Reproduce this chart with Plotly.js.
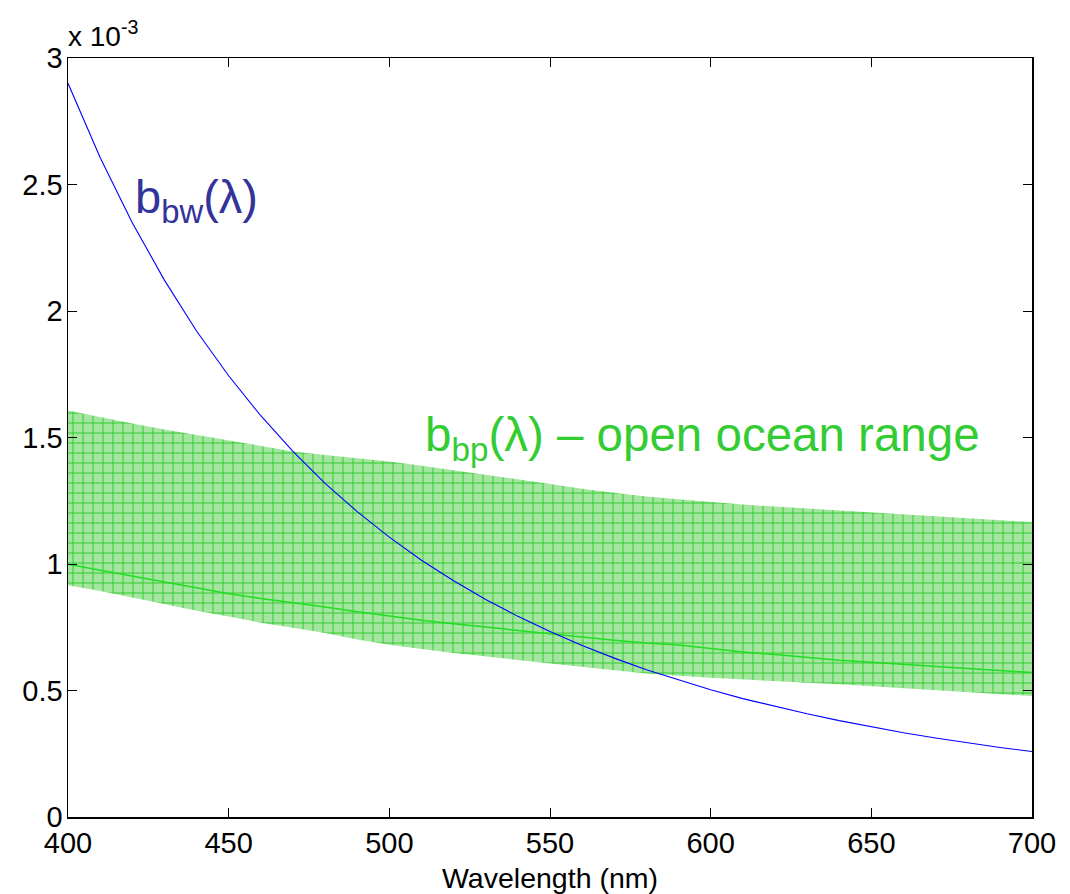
<!DOCTYPE html>
<html>
<head>
<meta charset="utf-8">
<script src="https://cdn.plot.ly/plotly-3.0.1.min.js"></script>
<style>
  html, body { margin: 0; padding: 0; background: #ffffff; }
  #chart { width: 1070px; height: 894px; }
</style>
</head>
<body>
<div id="chart"></div>
<script>
// Wavelength grid (nm)
const wavelength = [400, 410, 420, 430, 440, 450, 460, 470, 480, 490, 500,
                    510, 520, 530, 540, 550, 560, 570, 580, 590, 600,
                    610, 620, 630, 640, 650, 660, 670, 680, 690, 700];

// Backscattering of pure seawater, b_bw (units of 1e-3 m^-1)
const bbw = [2.900, 2.607, 2.349, 2.122, 1.921, 1.744, 1.586, 1.445, 1.319, 1.207, 1.106,
             1.015, 0.934, 0.860, 0.793, 0.733, 0.678, 0.628, 0.582, 0.541, 0.503,
             0.468, 0.437, 0.408, 0.381, 0.356, 0.333, 0.312, 0.293, 0.275, 0.259];

// Particulate backscattering, open-ocean range: upper and lower bounds (1e-3 m^-1)
const bbpHigh = [1.607, 1.580, 1.555, 1.532, 1.510, 1.487, 1.465, 1.445, 1.431, 1.419, 1.405,
                 1.388, 1.371, 1.354, 1.335, 1.316, 1.297, 1.282, 1.267, 1.256, 1.245,
                 1.235, 1.227, 1.219, 1.212, 1.204, 1.197, 1.190, 1.182, 1.174, 1.166];
const bbpLow = [0.916, 0.893, 0.868, 0.842, 0.815, 0.792, 0.768, 0.748, 0.727, 0.702, 0.681,
                0.664, 0.648, 0.633, 0.620, 0.607, 0.594, 0.580, 0.567, 0.558, 0.550,
                0.543, 0.537, 0.531, 0.525, 0.517, 0.510, 0.503, 0.494, 0.486, 0.478];
// Typical open-ocean particulate backscattering
const bbpTypical = [0.999, 0.975, 0.951, 0.929, 0.906, 0.882, 0.864, 0.848, 0.830, 0.811, 0.793,
                    0.778, 0.764, 0.750, 0.737, 0.724, 0.711, 0.699, 0.688, 0.680, 0.667,
                    0.652, 0.642, 0.631, 0.620, 0.612, 0.603, 0.595, 0.587, 0.579, 0.571];

const xTicks = [400, 450, 500, 550, 600, 650, 700];
const yTicks = [0, 0.5, 1, 1.5, 2, 2.5, 3];
const yTickText = ['0', '0.5', '1', '1.5', '2', '2.5', '3'];

const FONT = 'Liberation Sans, Arial, Helvetica, sans-serif';
const GREEN = '#33cc33';
const BLUE_TEXT = '#333399';

// Closed polygon for the shaded range: upper bound forward, lower bound backward
const bandX = wavelength.concat(wavelength.slice().reverse());
const bandY = bbpHigh.concat(bbpLow.slice().reverse());

const traces = [
  {
    x: bandX, y: bandY,
    type: 'scatter', mode: 'lines',
    fill: 'toself',
    fillcolor: '#a6e6a2',
    fillpattern: { shape: '+', size: 10, solidity: 0.19, bgcolor: '#a4e6a0', fgcolor: '#30cc30' },
    line: { width: 0, color: 'rgba(0,0,0,0)' },
    hoverinfo: 'skip', showlegend: false
  },
  {
    x: wavelength, y: bbpTypical,
    type: 'scatter', mode: 'lines',
    line: { color: '#22dd22', width: 1.5 },
    showlegend: false
  },
  {
    x: wavelength, y: bbw,
    type: 'scatter', mode: 'lines',
    line: { color: '#0000ff', width: 1.1 },
    showlegend: false
  }
];

const layout = {
  width: 1070, height: 894,
  margin: { l: 68, r: 38, t: 58, b: 77 },
  paper_bgcolor: '#ffffff',
  plot_bgcolor: '#ffffff',
  font: { family: FONT, size: 29, color: '#000000' },
  showlegend: false,
  xaxis: {
    range: [400, 700],
    tickvals: xTicks,
    ticks: 'inside', ticklen: 9, tickwidth: 1, tickcolor: '#000000',
    showline: true, linecolor: '#000000', linewidth: 1.5, mirror: 'ticks',
    showgrid: false, zeroline: false,
    tickfont: { family: FONT, size: 29, color: '#000000' },
    title: { text: 'Wavelength (nm)', font: { family: FONT, size: 28.5, color: '#000000' }, standoff: 10 }
  },
  yaxis: {
    range: [0, 3],
    tickvals: yTicks, ticktext: yTickText,
    ticks: 'inside', ticklen: 9, tickwidth: 1, tickcolor: '#000000',
    showline: true, linecolor: '#000000', linewidth: 1.5, mirror: 'ticks',
    showgrid: false, zeroline: false,
    ticklabelstandoff: -2,
    tickfont: { family: FONT, size: 29, color: '#000000' }
  },
  annotations: [
    {
      xref: 'paper', yref: 'paper', x: 0, y: 1,
      xanchor: 'left', yanchor: 'bottom', yshift: 4, xshift: -2,
      text: 'x 10<sup>-3</sup>', showarrow: false,
      font: { family: FONT, size: 28, color: '#000000' }
    },
    {
      xref: 'x', yref: 'y', x: 420.2, y: 2.44,
      xanchor: 'left', yanchor: 'middle',
      text: 'b<sub>bw</sub>(λ)', showarrow: false,
      font: { family: FONT, size: 47, color: BLUE_TEXT }
    },
    {
      xref: 'x', yref: 'y', x: 510.5, y: 1.50,
      xanchor: 'left', yanchor: 'middle',
      text: 'b<sub>bp</sub>(λ) – open ocean range', showarrow: false,
      font: { family: FONT, size: 47.5, color: GREEN }
    }
  ]
};

Plotly.newPlot('chart', traces, layout, { displayModeBar: false, staticPlot: true });
</script>
</body>
</html>
